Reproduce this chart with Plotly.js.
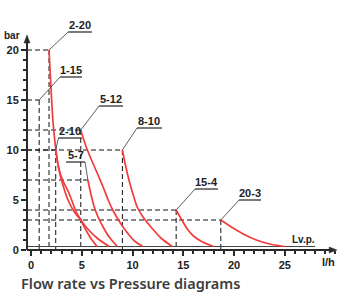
<!DOCTYPE html>
<html><head><meta charset="utf-8">
<script src="https://cdn.plot.ly/plotly-3.0.1.min.js"></script>
<style>html,body{margin:0;padding:0;background:#fff}#chart{width:338px;height:294px}</style>
</head><body><div id="chart"></div>
<script>
// ---- data ----
const nozzleLabels  = ['1-15', '2-20', '2-10', '5-7', '5-12', '8-10', '15-4', '20-3'];
const startFlow     = [0.8, 1.77, 2.43, 5.6, 4.9, 9.0, 14.3, 18.7];
const startPressure = [15, 20, 10, 7, 12, 10, 4, 3];

const flow_2_20 = [1.77, 1.95, 2.15, 2.45, 2.8, 3.2, 3.6, 4.2, 4.9, 5.5, 6.5, 7.7];
const pres_2_20 = [20, 16.5, 13, 10, 7.8, 6.3, 5.1, 3.9, 3.0, 2.2, 1.2, 0.35];
const flow_2_10 = [2.43, 2.7, 3.1, 3.6, 4.0, 4.4, 4.9, 5.3, 5.8, 6.5];
const pres_2_10 = [10, 8.3, 7.0, 6.0, 5.0, 3.9, 3.0, 2.2, 1.3, 0.35];
const flow_5_7  = [5.6, 5.85, 6.2, 6.6, 7.1, 7.7, 8.5];
const pres_5_7  = [7, 5.8, 4.4, 3.3, 2.3, 1.3, 0.35];
const flow_5_12 = [4.9, 5.4, 6.0, 6.6, 7.1, 7.6, 8.1, 8.8, 9.5, 10.2, 11.0];
const pres_5_12 = [12, 10.4, 8.9, 7.5, 6.3, 5.0, 3.9, 2.7, 1.7, 0.9, 0.35];
const flow_8_10 = [9.0, 9.3, 9.7, 10.1, 10.5, 11.1, 11.9, 12.8, 13.9];
const pres_8_10 = [10, 8.5, 6.8, 5.4, 4.2, 3.2, 2.2, 1.2, 0.35];
const flow_15_4 = [14.3, 14.8, 15.4, 16.0, 16.9, 18.0];
const pres_15_4 = [4, 3.1, 2.1, 1.4, 0.8, 0.35];
const flow_20_3 = [18.7, 19.9, 21.0, 22.2, 23.5, 25.0];
const pres_20_3 = [3, 2.2, 1.55, 1.0, 0.6, 0.35];

const lvpPressure = 0.35;
const lvpFlowEnd = 28.0;

const xTickVals = [0, 5, 10, 15, 20, 25];
const yTickVals = [0, 5, 10, 15, 20];

// ---- label layout (positions only) ----
const labelLayout = {
  '1-15': {u0: 2.86, u1: 5.02, uy: 17.3, from: 'left', drop: true},
  '2-20': {u0: 3.65, u1: 6.0, uy: 21.8, from: 'left', drop: true},
  '2-10': {u0: 2.7, u1: 5.0, uy: 11.2, from: 'left', drop: true},
  '5-7':  {u0: 3.45, u1: 5.32, uy: 8.8, from: 'right', drop: false},
  '5-12': {u0: 6.7, u1: 9.06, uy: 14.4, from: 'left', drop: true},
  '8-10': {u0: 10.44, u1: 12.9, uy: 12.2, from: 'left', drop: true},
  '15-4': {u0: 16.16, u1: 18.42, uy: 6.1, from: 'left', drop: true},
  '20-3': {u0: 20.5, u1: 22.66, uy: 5.0, from: 'left', drop: true}
};

const curves = [
  [flow_2_20, pres_2_20], [flow_2_10, pres_2_10], [flow_5_7, pres_5_7],
  [flow_5_12, pres_5_12], [flow_8_10, pres_8_10], [flow_15_4, pres_15_4],
  [flow_20_3, pres_20_3]
];

const X0 = -0.4;
const traces = [];
const dash = {color: '#111', width: 1, dash: '5px,3px'};

nozzleLabels.forEach((lab, i) => {
  traces.push({x: [X0, startFlow[i]], y: [startPressure[i], startPressure[i]], mode: 'lines', line: dash, hoverinfo: 'skip'});
  if (labelLayout[lab].drop)
    traces.push({x: [startFlow[i], startFlow[i]], y: [startPressure[i], 0], mode: 'lines', line: dash, hoverinfo: 'skip'});
});
traces.push({x: [X0, lvpFlowEnd], y: [lvpPressure, lvpPressure], mode: 'lines', line: {color: '#444', width: 1}, hoverinfo: 'skip'});
curves.forEach(c => traces.push({x: c[0], y: c[1], mode: 'lines', line: {color: '#f23c3c', width: 1.7, shape: 'spline', smoothing: 0.8}, hoverinfo: 'skip'}));

const shapes = [];
const annotations = [];
const lblFont = {family: 'Liberation Sans, Arial, sans-serif', size: 11, weight: 'bold', color: '#222'};
nozzleLabels.forEach((lab, i) => {
  const L = labelLayout[lab];
  shapes.push({type: 'line', xref: 'x', yref: 'y', x0: L.u0, x1: L.u1, y0: L.uy, y1: L.uy, line: {color: '#222', width: 1.2}});
  const ex = L.from === 'left' ? L.u0 : L.u1;
  shapes.push({type: 'line', xref: 'x', yref: 'y', x0: startFlow[i], y0: startPressure[i], x1: ex, y1: L.uy, line: {color: '#333', width: 0.8}});
  annotations.push({x: (L.u0 + L.u1) / 2, y: L.uy, xref: 'x', yref: 'y', text: lab, showarrow: false, yanchor: 'bottom', xanchor: 'center', yshift: -1, font: lblFont});
});

const axCol = '#2a2a2a';
shapes.push({type: 'line', xref: 'paper', yref: 'paper', x0: 0, x1: 0, y0: 0, y1: 0.865, line: {color: axCol, width: 2}});
shapes.push({type: 'path', xref: 'paper', yref: 'paper', path: 'M 0 0.896 L -0.0097 0.8625 L 0.0097 0.8625 Z', fillcolor: axCol, line: {color: axCol, width: 0.5}});
shapes.push({type: 'line', xref: 'paper', yref: 'paper', x0: 0, x1: 0.981, y0: 0, y1: 0, line: {color: axCol, width: 2}});
shapes.push({type: 'path', xref: 'paper', yref: 'paper', path: 'M 1.003 0 L 0.978 0.0125 L 0.978 -0.0125 Z', fillcolor: axCol, line: {color: axCol, width: 0.5}});

const smallBold = {family: 'Liberation Sans, Arial, sans-serif', size: 10, weight: 'bold', color: '#222'};
annotations.push({xref: 'paper', yref: 'paper', x: -0.0485, y: 0.893, text: 'bar', showarrow: false, font: smallBold, xanchor: 'center', yanchor: 'middle'});
annotations.push({xref: 'paper', yref: 'paper', x: 0.976, y: -0.052, text: 'l/h', showarrow: false, font: {...smallBold, size: 11}, xanchor: 'center', yanchor: 'middle'});
annotations.push({xref: 'paper', yref: 'paper', x: 0.895, y: 0.044, text: 'Lv.p.', showarrow: false, font: smallBold, xanchor: 'center', yanchor: 'middle'});

const minorY = [];
for (let v = 1; v <= 19; v++) if (v % 5) minorY.push(v);
const tickFont = {family: 'Liberation Sans, Arial, sans-serif', size: 11, weight: 'bold', color: '#222'};

const layout = {
  width: 338, height: 294,
  margin: {l: 27, r: 2, t: 10, b: 44},
  paper_bgcolor: '#fff', plot_bgcolor: '#fff',
  showlegend: false, hovermode: false,
  title: {text: 'Flow rate vs Pressure diagrams', font: {family: 'Noto Sans, sans-serif', size: 14.5, weight: 600, color: '#3d3d3d'},
          xref: 'container', yref: 'container', x: 21 / 338, xanchor: 'left', y: 1 - 284 / 294, yanchor: 'middle'},
  xaxis: {range: [X0, 30.05], showgrid: false, zeroline: false, showline: false,
          tickmode: 'array', tickvals: xTickVals, ticktext: xTickVals.map(String),
          ticks: 'outside', ticklen: 5, tickwidth: 2, tickcolor: axCol, tickfont: tickFont,
          minor: {tickmode: 'linear', tick0: 0, dtick: 1, ticks: 'outside', ticklen: 3, tickwidth: 2, tickcolor: axCol}},
  yaxis: {range: [0, 24], showgrid: false, zeroline: false, showline: false,
          tickmode: 'array', tickvals: yTickVals, ticktext: yTickVals.map(String),
          ticks: 'outside', ticklen: 5, tickwidth: 2, tickcolor: axCol, tickfont: tickFont,
          minor: {tickmode: 'array', tickvals: minorY, ticks: 'outside', ticklen: 3, tickwidth: 2, tickcolor: axCol}},
  shapes: shapes,
  annotations: annotations
};

Plotly.newPlot('chart', traces, layout, {staticPlot: true, displayModeBar: false});
</script>
</body></html>
